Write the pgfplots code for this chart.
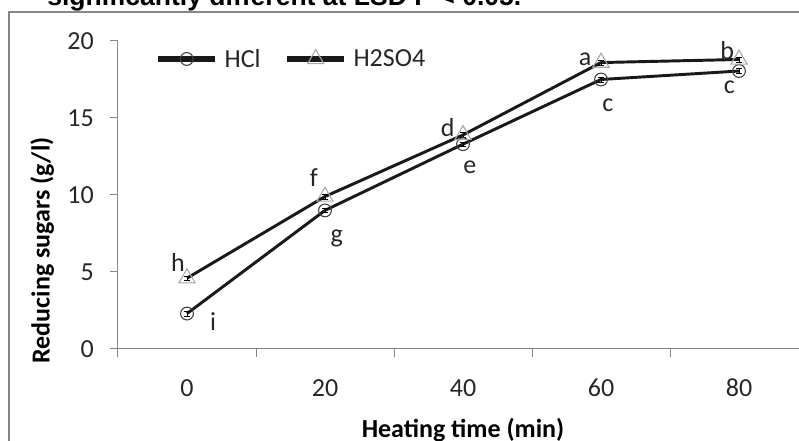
\documentclass[border=0pt]{standalone}
\usepackage{pgfplots}
\pgfplotsset{compat=1.18}
\usepackage{fontspec}
\setmainfont{Carlito}
\newfontfamily\arialfont{Liberation Sans}
\definecolor{axgray}{HTML}{868686}
\definecolor{trigray}{HTML}{A6A6A6}
\definecolor{cirgray}{HTML}{404040}
\newcommand{\cfont}{\fontsize{19.5}{23}\selectfont}

\pgfplotstableread{
x   hcl    h2so4  err
0   2.3    4.6    0.15
20  9.0    9.9    0.15
40  13.3   13.9   0.15
60  17.5   18.6   0.15
80  18.05  18.8   0.15
}\sugars

\begin{document}
\begin{tikzpicture}
% 0.75pt = one pixel of the 799 x 441 reference, y upward
\useasboundingbox (0pt,0pt) rectangle (599.25pt,330.75pt);
\clip (0pt,0pt) rectangle (599.25pt,330.75pt);
\node[anchor=base west, inner sep=0pt, font=\fontsize{19.9}{24}\selectfont\arialfont\bfseries]
  at (35.25pt,326.25pt) {significantly different at LSD P < 0.05.};
\draw[axgray, line width=1.1pt] (6.75pt,321.75pt) rectangle (720pt,-75pt);

\begin{axis}[
    at={(88.5pt,69pt)}, anchor=south west,
    scale only axis, width=517.5pt, height=231pt,
    xmin=-10, xmax=90, ymin=0, ymax=20,
    axis x line=bottom, axis y line=left,
    axis line style={-, axgray, line width=0.75pt},
    tick align=outside,
    xtick={0,20,...,80},
    minor xtick={-10,10,...,90},
    major x tick style={draw=none},
    minor x tick style={axgray, line width=0.75pt},
    minor tick length=6pt,
    ytick={0,5,...,20},
    major tick length=6pt,
    ytick style={axgray, line width=0.75pt},
    ticklabel style={font=\cfont, text=black!85},
    /pgf/number format/assume math mode=true,
    xticklabel style={anchor=base, inner sep=0pt, yshift=-30pt},
    yticklabel style={anchor=east, inner sep=0pt, xshift=-12pt},
    xlabel={Heating time (min)},
    xlabel style={font=\cfont\bfseries, at={(axis description cs:0.5,-0.286)}, anchor=base},
    ylabel={Reducing sugars (g/l)},
    ylabel style={font=\cfont\bfseries, at={(axis description cs:-0.110,0.32)}, anchor=center},
    legend columns=2,
    legend style={at={(axis description cs:0.058,0.9416)}, anchor=west,
        draw=none, fill=none, inner sep=0pt, font=\cfont, text=black!85,
        /tikz/column sep=5pt,
        /tikz/every even column/.append style={column sep=18pt}},
    legend image code/.code={
        \fill[black!90] (0pt,-0.9pt) rectangle (40.5pt,0.9pt);
        \draw[#1] plot coordinates {(20.25pt,0pt)};},
    clip=false,
]
\addplot[black!90, line width=2.2pt,
    mark=o, mark size=4.8pt, mark options={draw=cirgray, fill=none, line width=0.8pt}]
  table[x=x, y=hcl] {\sugars};
\addlegendentry{HCl}
\addplot[black!90, line width=2.2pt,
    mark=triangle, mark size=7pt, mark options={draw=trigray, fill=none, line width=0.8pt}]
  table[x=x, y=h2so4] {\sugars};
\addlegendentry{H2SO4}

% small error bars drawn on top
\pgfplotsset{ebar/.style={draw=none, mark=none, forget plot,
    error bars/.cd, y dir=both, y explicit,
    error bar style={black, line width=0.7pt},
    error mark options={rotate=90, mark size=2pt}}}
\addplot[ebar] table[x=x, y=hcl, y error=err] {\sugars};
\addplot[ebar] table[x=x, y=h2so4, y error=err] {\sugars};

\begin{scope}[every node/.style={font=\cfont, inner sep=0pt, text=black!85}]
\node at (axis cs:-1.3,5.65) {h};
\node at (axis cs:3.8,1.75) {i};
\node at (axis cs:18.4,11.1) {f};
\node at (axis cs:21.7,7.2) {g};
\node at (axis cs:37.8,14.35) {d};
\node at (axis cs:41.0,11.8) {e};
\node at (axis cs:57.7,18.8) {a};
\node at (axis cs:61.0,15.85) {c};
\node at (axis cs:78.3,19.35) {b};
\node at (axis cs:78.6,17.0) {c};
\end{scope}
\end{axis}
\end{tikzpicture}
\end{document}
